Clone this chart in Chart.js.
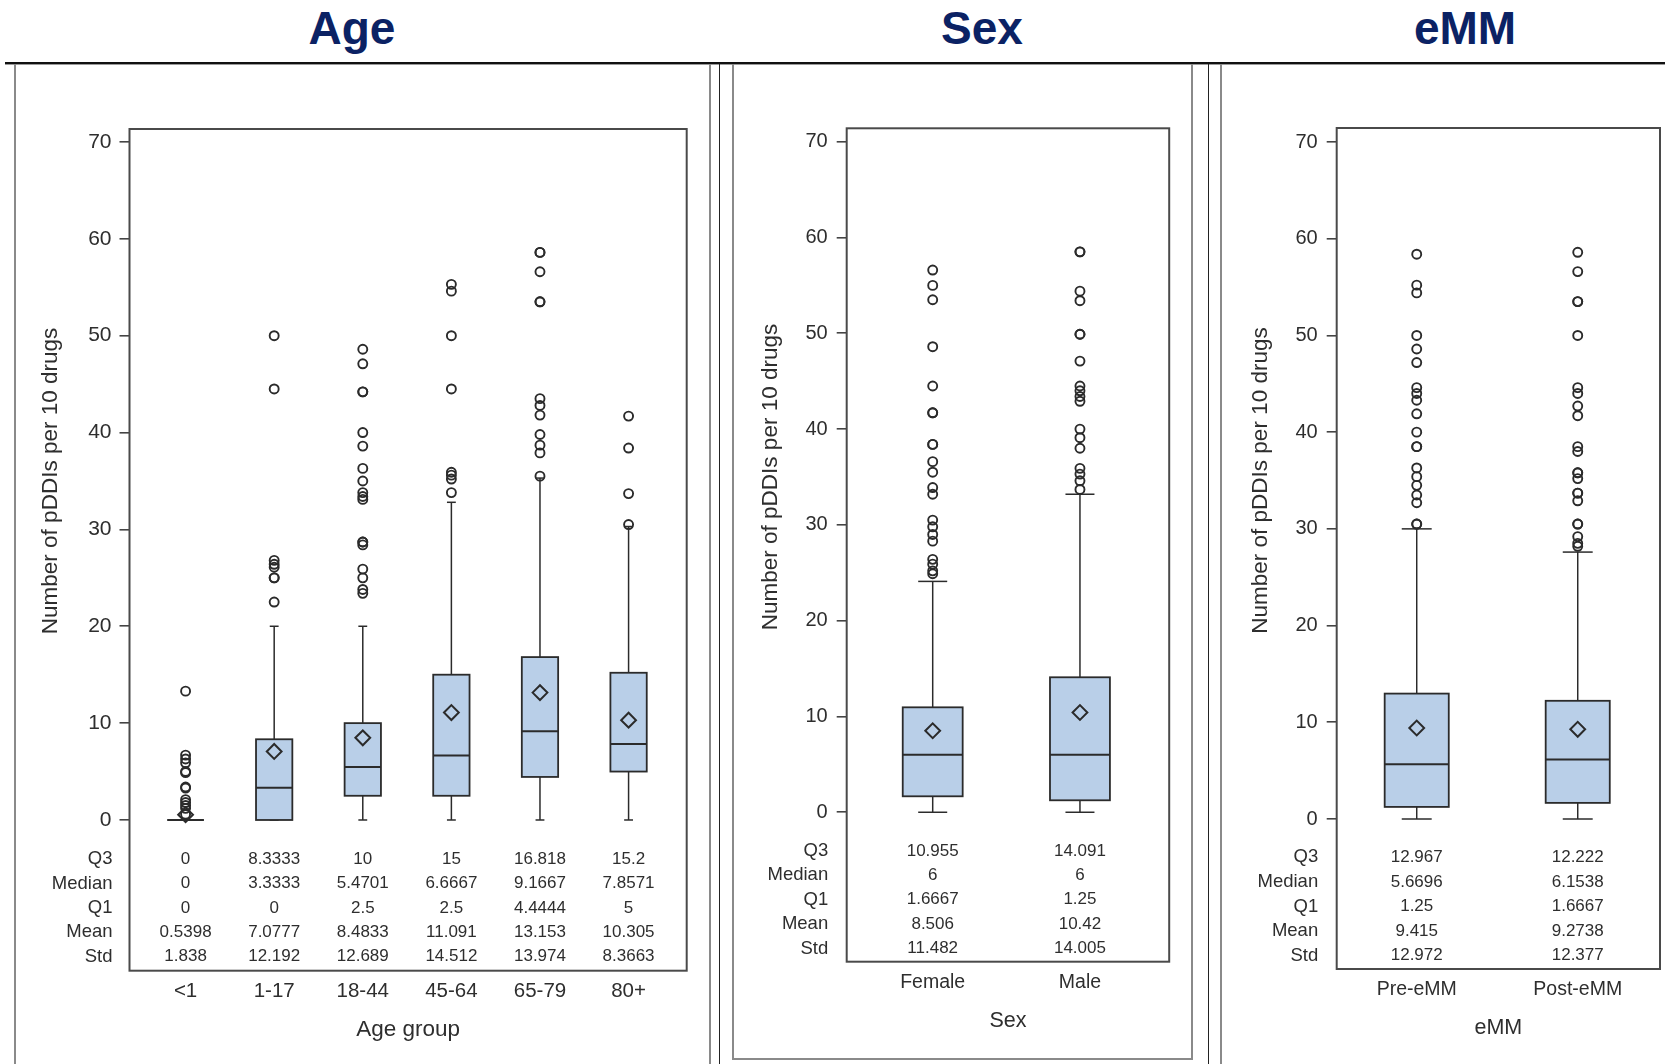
<!DOCTYPE html>
<html>
<head>
<meta charset="utf-8">
<title>Number of pDDIs per 10 drugs by age group, sex and eMM</title>
<script src="https://cdn.jsdelivr.net/npm/chart.js@4.4.1/dist/chart.umd.min.js"></script>
<style>
  html, body { margin: 0; padding: 0; background: #fff; }
  body { width: 1665px; height: 1064px; position: relative; overflow: hidden; }
  .title { position: absolute; top: 5px; font: bold 46px/46px "Liberation Sans", Arial, sans-serif;
           color: #0b2264; transform: translateX(-50%); white-space: nowrap; }
  .rule { position: absolute; left: 5px; top: 62px; width: 1660px; height: 2px; background: #111; }
  .rule2 { position: absolute; left: 5px; top: 64px; width: 1660px; height: 1px; background: #9a9a9a; }
  .panel { position: absolute; top: 64px; box-sizing: border-box; border-left: 2px solid #8a8a8a; }
  .vline { position: absolute; top: 64px; width: 1px; height: 1000px; background: #222; }
  .chart { position: absolute; top: 0; height: 1064px; }
</style>
</head>
<body>
<div class="title" style="left:352px">Age</div>
<div class="title" style="left:982px">Sex</div>
<div class="title" style="left:1465px">eMM</div>
<div class="rule"></div>
<div class="rule2"></div>

<div class="panel" style="left:14px; width:697px; height:1010px; border-right:2px solid #8a8a8a"></div>
<div class="vline" style="left:719px"></div>
<div class="panel" style="left:732px; width:461px; height:996px; border-right:2px solid #8a8a8a; border-bottom:2px solid #8a8a8a"></div>
<div class="vline" style="left:1208px"></div>
<div class="panel" style="left:1220px; width:460px; height:1010px"></div>

<div class="chart" style="left:16px; width:692px"><canvas id="ageChart"></canvas></div>
<div class="chart" style="left:735px; width:455px"><canvas id="sexChart"></canvas></div>
<div class="chart" style="left:1223px; width:480px"><canvas id="emmChart"></canvas></div>

<script>
// ---- data ----
const yTicks = [0, 10, 20, 30, 40, 50, 60, 70];
const rowNames = ["Q3", "Median", "Q1", "Mean", "Std"];

const ageGroups = ["<1", "1-17", "18-44", "45-64", "65-79", "80+"];
const ageQ3 = [0, 8.3333, 10, 15, 16.818, 15.2];
const ageMedian = [0, 3.3333, 5.4701, 6.6667, 9.1667, 7.8571];
const ageQ1 = [0, 0, 2.5, 2.5, 4.4444, 5];
const ageMean = [0.5398, 7.0777, 8.4833, 11.091, 13.153, 10.305];
const ageStd = [1.838, 12.192, 12.689, 14.512, 13.974, 8.3663];
const ageWhiskerLow = [0, 0, 0, 0, 0, 0];
const ageWhiskerHigh = [0, 20, 20, 32.8, 35.3, 30.3];
const ageOutliers = [
  [0.6, 1.2, 1.5, 1.8, 2.1, 3.3, 3.4, 4.9, 5, 5.9, 6.3, 6.7, 13.3],
  [22.5, 25, 25, 26.1, 26.4, 26.8, 44.5, 50],
  [23.4, 23.8, 25, 25.9, 28.4, 28.7, 28.7, 33.1, 33.4, 33.8, 35, 36.3, 38.6, 40, 44.2, 44.2, 47.1, 48.6],
  [33.8, 35.2, 35.6, 35.9, 44.5, 50, 54.6, 55.3],
  [35.5, 37.9, 38.7, 39.8, 41.8, 42.8, 43.5, 53.5, 53.5, 56.6, 58.6, 58.6],
  [30.5, 33.7, 38.4, 41.7]
];

const sexGroups = ["Female", "Male"];
const sexQ3 = [10.955, 14.091];
const sexMedian = [6, 6];
const sexQ1 = [1.6667, 1.25];
const sexMean = [8.506, 10.42];
const sexStd = [11.482, 14.005];
const sexWhiskerLow = [0, 0];
const sexWhiskerHigh = [24.1, 33.2];
const sexOutliers = [
  [24.9, 25.2, 25.9, 26.4, 28.3, 29, 29.8, 30.5, 33.2, 33.9, 35.5, 36.6, 38.4, 38.4, 41.7, 41.7, 44.5, 48.6, 53.5, 55, 56.6],
  [33.7, 34.6, 35.3, 35.9, 38, 39.1, 40, 42.9, 43.4, 44, 44.5, 47.1, 49.9, 49.9, 53.4, 54.4, 58.5, 58.5]
];

const emmGroups = ["Pre-eMM", "Post-eMM"];
const emmQ3 = [12.967, 12.222];
const emmMedian = [5.6696, 6.1538];
const emmQ1 = [1.25, 1.6667];
const emmMean = [9.415, 9.2738];
const emmStd = [12.972, 12.377];
const emmWhiskerLow = [0, 0];
const emmWhiskerHigh = [30, 27.6];
const emmOutliers = [
  [30.5, 30.5, 32.7, 33.5, 34.5, 35.4, 36.3, 38.5, 38.5, 40, 41.9, 43.3, 44, 44.6, 47.2, 48.6, 50, 54.4, 55.2, 58.4],
  [28.2, 28.5, 29.2, 30.5, 30.5, 32.9, 33.7, 33.7, 35.2, 35.8, 35.8, 38, 38.5, 41.7, 42.7, 44, 44.6, 50, 53.5, 53.5, 56.6, 58.6]
];

// ---- look ----
const FONT = '"Liberation Sans", Arial, sans-serif';
const TEXT = "#2e2e2e";
const INK = "#2b2b2b";
const BOX_FILL = "#b9cfe8";
const AXIS_W = 60; // room left of the frame for the y tick labels

const panels = [
  {
    canvas: "ageChart", boxLeft: 16, boxWidthPx: 692,
    frame: { left: 129.5, top: 129, right: 686.7, bottom: 970.7 },
    xMin: -0.633, xMax: 5.656, yMin: -15.56, yMax: 71.34,
    cats: ageGroups, q3: ageQ3, med: ageMedian, q1: ageQ1, mean: ageMean, std: ageStd,
    lo: ageWhiskerLow, hi: ageWhiskerHigh, outliers: ageOutliers,
    boxW: 0.41, capW: 0.1, tickLen: 10, tickPad: 8, labelGap: 17,
    rowStart: 39.3, rowGap: 24.35, yTitleOff: 78.5, xTitle: "Age group",
    tickSize: 21, catSize: 20.5, titleSize: 22.5
  },
  {
    canvas: "sexChart", boxLeft: 735, boxWidthPx: 455,
    frame: { left: 846.7, top: 128.3, right: 1169.2, bottom: 961.7 },
    xMin: -0.584, xMax: 1.606, yMin: -15.6, yMax: 71.4,
    cats: sexGroups, q3: sexQ3, med: sexMedian, q1: sexQ1, mean: sexMean, std: sexStd,
    lo: sexWhiskerLow, hi: sexWhiskerHigh, outliers: sexOutliers,
    boxW: 0.407, capW: 0.197, tickLen: 10, tickPad: 9, labelGap: 18.5,
    rowStart: 38.7, rowGap: 24.4, yTitleOff: 75.7, xTitle: "Sex",
    tickSize: 20, catSize: 19.5, titleSize: 21.5
  },
  {
    canvas: "emmChart", boxLeft: 1223, boxWidthPx: 480,
    frame: { left: 1336.7, top: 128, right: 1660, bottom: 969 },
    xMin: -0.497, xMax: 1.511, yMin: -15.51, yMax: 71.45,
    cats: emmGroups, q3: emmQ3, med: emmMedian, q1: emmQ1, mean: emmMean, std: emmStd,
    lo: emmWhiskerLow, hi: emmWhiskerHigh, outliers: emmOutliers,
    boxW: 0.398, capW: 0.186, tickLen: 10, tickPad: 9, labelGap: 18.5,
    rowStart: 38.3, rowGap: 24.6, yTitleOff: 75.7, xTitle: "eMM",
    tickSize: 20, catSize: 19.5, titleSize: 21.5
  }
];

function line(ctx, x1, y1, x2, y2) {
  ctx.beginPath();
  ctx.moveTo(x1, y1);
  ctx.lineTo(x2, y2);
  ctx.stroke();
}

function text(ctx, s, x, y, size, align, rot) {
  ctx.save();
  ctx.translate(x, y);
  if (rot) ctx.rotate(rot);
  ctx.font = `${size}px ${FONT}`;
  ctx.fillStyle = TEXT;
  ctx.textAlign = align;
  ctx.textBaseline = "middle";
  ctx.fillText(s, 0, 0);
  ctx.restore();
}

// boxes, whiskers, frame, statistics table and labels
function boxPlotPlugin(p) {
  return {
    id: "boxplot",
    beforeDatasetsDraw(chart) {
      const { ctx, scales: { x, y } } = chart;
      ctx.save();
      ctx.strokeStyle = INK;
      p.cats.forEach((c, i) => {
        const xc = x.getPixelForValue(i);
        const xl = x.getPixelForValue(i - p.boxW / 2);
        const xr = x.getPixelForValue(i + p.boxW / 2);
        const cl = x.getPixelForValue(i - p.capW / 2);
        const cr = x.getPixelForValue(i + p.capW / 2);
        const y3 = y.getPixelForValue(p.q3[i]);
        const y1 = y.getPixelForValue(p.q1[i]);
        const ym = y.getPixelForValue(p.med[i]);
        const yh = y.getPixelForValue(p.hi[i]);
        const yl = y.getPixelForValue(p.lo[i]);

        ctx.lineWidth = 1.5;
        line(ctx, xc, y3, xc, yh);
        line(ctx, cl, yh, cr, yh);
        line(ctx, xc, y1, xc, yl);
        line(ctx, cl, yl, cr, yl);

        ctx.fillStyle = BOX_FILL;
        ctx.fillRect(xl, y3, xr - xl, y1 - y3);
        ctx.lineWidth = 1.8;
        ctx.strokeRect(xl, y3, xr - xl, y1 - y3);
        ctx.lineWidth = 2;
        line(ctx, xl, ym, xr, ym);
      });
      ctx.restore();
    },
    afterDraw(chart) {
      const { ctx, chartArea: a, scales: { x, y } } = chart;
      ctx.save();
      ctx.strokeStyle = "#4a4a4a";
      ctx.lineWidth = 2;
      ctx.strokeRect(a.left, a.top, a.right - a.left, a.bottom - a.top);

      const y0 = y.getPixelForValue(0);
      const table = [p.q3, p.med, p.q1, p.mean, p.std];
      rowNames.forEach((name, r) => {
        const ry = y0 + p.rowStart + r * p.rowGap;
        text(ctx, name, a.left - p.labelGap, ry, 18.5, "right");
        table[r].forEach((v, i) => text(ctx, String(v), x.getPixelForValue(i), ry, 17, "center"));
      });

      p.cats.forEach((c, i) => text(ctx, c, x.getPixelForValue(i), a.bottom + 21, p.catSize, "center"));
      text(ctx, p.xTitle, (a.left + a.right) / 2, a.bottom + 59, p.titleSize, "center");
      text(ctx, "Number of pDDIs per 10 drugs", a.left - p.yTitleOff, y.getPixelForValue(35), 22.5, "center", -Math.PI / 2);
      ctx.restore();
    }
  };
}

panels.forEach(p => {
  const outlierPoints = [];
  p.outliers.forEach((list, i) => list.forEach(v => outlierPoints.push({ x: i, y: v })));
  const meanPoints = p.mean.map((v, i) => ({ x: i, y: v }));
  const f = p.frame;

  new Chart(document.getElementById(p.canvas), {
    type: "scatter",
    data: {
      datasets: [
        {
          label: "Outliers",
          data: outlierPoints,
          pointStyle: "circle",
          pointRadius: 4.5,
          pointBorderWidth: 1.9,
          borderColor: INK,
          backgroundColor: "rgba(0,0,0,0)"
        },
        {
          label: "Mean",
          data: meanPoints,
          pointStyle: "rectRot",
          pointRadius: 7.4,
          pointBorderWidth: 2,
          borderColor: INK,
          backgroundColor: "rgba(0,0,0,0)"
        }
      ]
    },
    options: {
      responsive: true,
      maintainAspectRatio: false,
      animation: false,
      events: [],
      layout: {
        padding: {
          left: f.left - p.boxLeft - AXIS_W,
          right: p.boxLeft + p.boxWidthPx - f.right,
          top: f.top,
          bottom: 1064 - f.bottom
        }
      },
      scales: {
        x: {
          type: "linear",
          display: false,
          min: p.xMin,
          max: p.xMax
        },
        y: {
          type: "linear",
          min: p.yMin,
          max: p.yMax,
          afterBuildTicks: s => { s.ticks = yTicks.map(v => ({ value: v })); },
          afterFit: s => { s.width = AXIS_W; },
          border: { display: false },
          grid: {
            display: true,
            drawOnChartArea: false,
            drawTicks: true,
            tickLength: p.tickLen,
            color: "#444",
            lineWidth: 1.6
          },
          ticks: {
            autoSkip: false,
            padding: p.tickPad,
            color: TEXT,
            font: { family: FONT, size: p.tickSize }
          }
        }
      },
      plugins: {
        legend: { display: false },
        tooltip: { enabled: false }
      }
    },
    plugins: [boxPlotPlugin(p)]
  });
});
</script>
</body>
</html>
